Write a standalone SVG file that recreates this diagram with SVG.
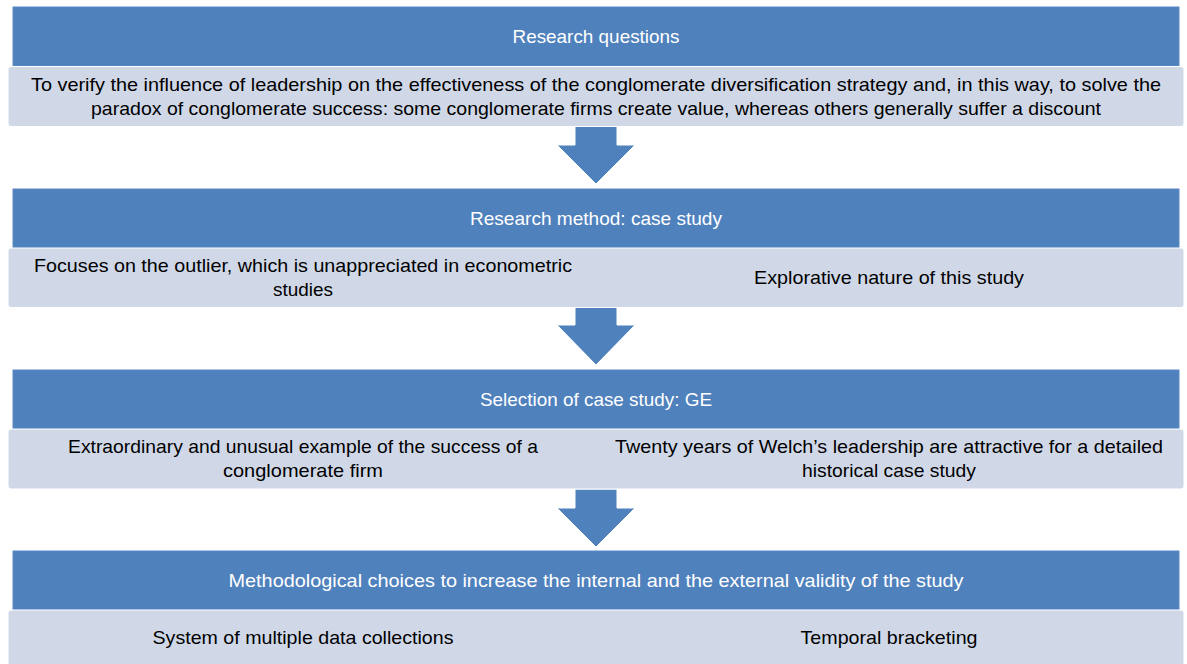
<svg xmlns="http://www.w3.org/2000/svg" width="1187" height="664" viewBox="0 0 1187 664">
<style>
.hdr{fill:#4F81BD;stroke:#5A8AC4;stroke-width:1}
.box{fill:#D0D8E8;stroke:#FFFFFF;stroke-width:1}
.arr{fill:#4F81BD;stroke:#FFFFFF;stroke-width:1}
.ht{font-family:"Liberation Sans",Arial,sans-serif;font-size:19px;fill:#FFFFFF;text-anchor:middle}
.bt{font-family:"Liberation Sans",Arial,sans-serif;font-size:19px;fill:#000000;text-anchor:middle}
</style>
<rect width="1187" height="664" fill="#FFFFFF"/>
<g id="connectors">
<path class="arr" d="M575,126 H617 V145 H635 L596,184 L557,145 H575 Z"/>
<path class="arr" d="M575,307 H617 V325 H635 L596,365 L557,325 H575 Z"/>
<path class="arr" d="M575,489 H617 V508 H635 L596,547 L557,508 H575 Z"/>
</g>
<g id="n1">
<rect class="hdr" x="13" y="7" width="1166" height="59"/>
<text class="ht" x="596" y="43" textLength="167" lengthAdjust="spacingAndGlyphs">Research questions</text>
</g>
<g id="n1b">
<rect class="box" x="8" y="66.5" width="1176" height="60" rx="3"/>
<text class="bt" x="596" y="91" textLength="1130" lengthAdjust="spacingAndGlyphs">To verify the influence of leadership on the effectiveness of the conglomerate diversification strategy and, in this way, to solve the</text>
<text class="bt" x="596" y="115" textLength="1010" lengthAdjust="spacingAndGlyphs">paradox of conglomerate success: some conglomerate firms create value, whereas others generally suffer a discount</text>
</g>
<g id="n2">
<rect class="hdr" x="13" y="189" width="1166" height="59"/>
<text class="ht" x="596" y="225" textLength="252" lengthAdjust="spacingAndGlyphs">Research method: case study</text>
</g>
<g id="n2b">
<rect class="box" x="8" y="248" width="1176" height="59.5" rx="3"/>
<text class="bt" x="303" y="272" textLength="538" lengthAdjust="spacingAndGlyphs">Focuses on the outlier, which is unappreciated in econometric</text>
<text class="bt" x="303" y="296" textLength="60" lengthAdjust="spacingAndGlyphs">studies</text>
<text class="bt" x="889" y="284" textLength="270" lengthAdjust="spacingAndGlyphs">Explorative nature of this study</text>
</g>
<g id="n3">
<rect class="hdr" x="13" y="370" width="1166" height="59"/>
<text class="ht" x="596" y="406" textLength="232" lengthAdjust="spacingAndGlyphs">Selection of case study: GE</text>
</g>
<g id="n3b">
<rect class="box" x="8" y="429" width="1176" height="60" rx="3"/>
<text class="bt" x="303" y="453" textLength="470" lengthAdjust="spacingAndGlyphs">Extraordinary and unusual example of the success of a</text>
<text class="bt" x="303" y="477" textLength="160" lengthAdjust="spacingAndGlyphs">conglomerate firm</text>
<text class="bt" x="889" y="453" textLength="548" lengthAdjust="spacingAndGlyphs">Twenty years of Welch’s leadership are attractive for a detailed</text>
<text class="bt" x="889" y="477" textLength="174" lengthAdjust="spacingAndGlyphs">historical case study</text>
</g>
<g id="n4">
<rect class="hdr" x="13" y="551" width="1166" height="59"/>
<text class="ht" x="596" y="587" textLength="735" lengthAdjust="spacingAndGlyphs">Methodological choices to increase the internal and the external validity of the study</text>
</g>
<g id="n4b">
<rect class="box" x="8" y="610" width="1176" height="60" rx="3"/>
<text class="bt" x="303" y="644" textLength="301" lengthAdjust="spacingAndGlyphs">System of multiple data collections</text>
<text class="bt" x="889" y="644" textLength="177" lengthAdjust="spacingAndGlyphs">Temporal bracketing</text>
</g>
</svg>
